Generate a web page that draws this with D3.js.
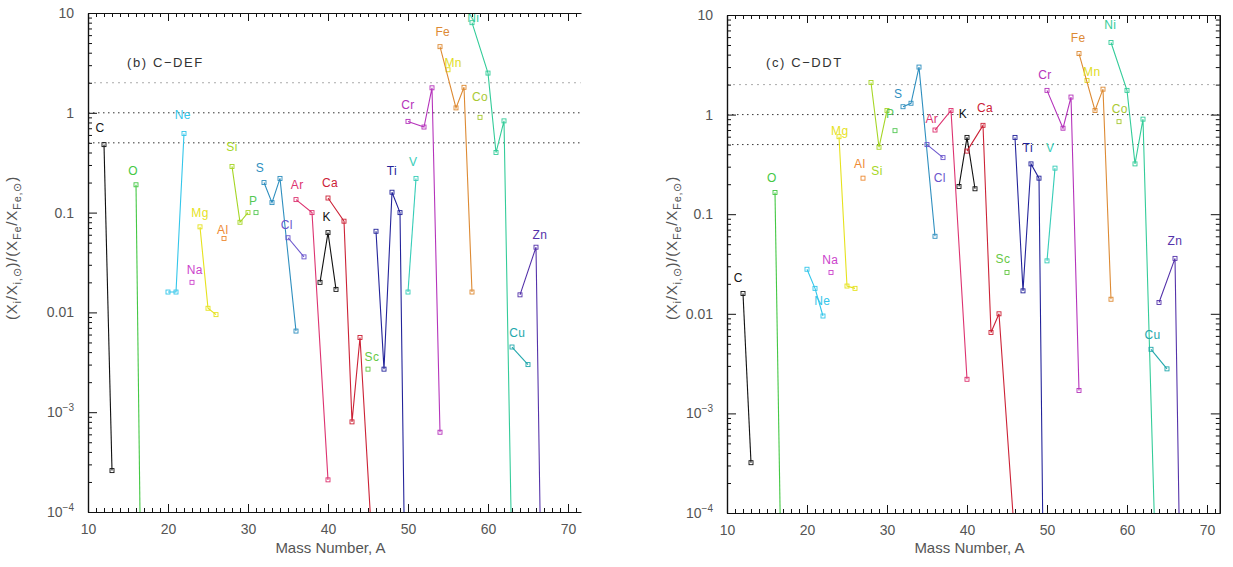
<!DOCTYPE html>
<html><head><meta charset="utf-8">
<script src="https://cdn.jsdelivr.net/npm/d3@7"></script>
<style>
body{margin:0;background:#fff;}
svg text{font-family:"Liberation Sans",Arial,Helvetica,sans-serif;}
</style></head><body>
<svg id="chart" width="1233" height="567"></svg>
<script>
// ---------- data ----------
const elements = ["C","O","Ne","Na","Mg","Al","Si","P","S","Cl","Ar","K","Ca","Sc","Ti","V","Cr","Mn","Fe","Co","Ni","Cu","Zn"];

const isotopeA = {
  C:[12,13], O:[16,17], Ne:[20,21,22], Na:[23], Mg:[24,25,26], Al:[27], Si:[28,29,30], P:[31],
  S:[32,33,34,36], Cl:[35,37], Ar:[36,38,40], K:[39,40,41], Ca:[40,42,43,44,46], Sc:[45],
  Ti:[46,47,48,49,50], V:[50,51], Cr:[50,52,53,54], Mn:[55], Fe:[54,56,57,58], Co:[59],
  Ni:[58,60,61,62,64], Cu:[63,65], Zn:[64,66,67]
};

// (b) C-DEF : (X_i/X_i,sun)/(X_Fe/X_Fe,sun)
const valuesDEF = {
  C:[0.48,2.6e-4], O:[0.19,5e-8], Ne:[0.016,0.016,0.62], Na:[0.02], Mg:[0.072,0.011,0.0095],
  Al:[0.055], Si:[0.29,0.08,0.1], P:[0.1], S:[0.2,0.126,0.22,0.0065], Cl:[0.056,0.036],
  Ar:[0.135,0.1,2.1e-4], K:[0.02,0.063,0.017], Ca:[0.14,0.082,8e-4,0.0056,1e-5], Sc:[2.7e-3],
  Ti:[0.065,2.7e-3,0.16,0.1,1e-7], V:[0.016,0.22], Cr:[0.82,0.72,1.78,6.3e-4], Mn:[2.7],
  Fe:[4.6,1.12,1.8,0.016], Co:[0.9], Ni:[8,2.5,0.4,0.83,1e-9], Cu:[4.5e-3,3e-3], Zn:[0.015,0.045,2.5e-7]
};

// (c) C-DDT
const valuesDDT = {
  C:[0.016,3.2e-4], O:[0.165,1.6e-6], Ne:[0.028,0.018,0.0095], Na:[0.026], Mg:[0.6,0.019,0.018],
  Al:[0.23], Si:[2.1,0.47,1.1], P:[0.69], S:[1.2,1.3,3.0,0.06], Cl:[0.5,0.37],
  Ar:[0.7,1.1,2.2e-3], K:[0.19,0.59,0.18], Ca:[0.43,0.78,6.5e-3,0.01,5e-5], Sc:[0.026],
  Ti:[0.59,0.017,0.32,0.23,1e-8], V:[0.034,0.29], Cr:[1.75,0.73,1.5,1.7e-3], Mn:[2.2],
  Fe:[4.1,1.1,1.8,0.014], Co:[0.85], Ni:[5.3,1.75,0.32,0.9,2e-6], Cu:[4.4e-3,2.8e-3], Zn:[0.013,0.036,3e-7]
};

// element-name annotation anchors, in data units [mass number, ratio]
const labelAtDEF = {
  C:[11.5,0.71], O:[15.65,0.26], Ne:[21.85,0.95], Na:[23.35,0.027], Mg:[24,0.10], Al:[26.85,0.068],
  Si:[28,0.46], P:[30.65,0.13], S:[31.5,0.28], Cl:[34.85,0.076], Ar:[36.15,0.19], K:[39.85,0.091],
  Ca:[40.25,0.2], Sc:[45.5,3.6e-3], Ti:[48,0.26], V:[50.65,0.32], Cr:[50,1.2], Mn:[55.65,3.2],
  Fe:[54.35,6.5], Co:[59,1.45], Ni:[58.15,8.9], Cu:[63.65,6.3e-3], Zn:[66.5,0.06]
};
const labelAtDDT = {
  C:[11.4,0.023], O:[15.6,0.23], Ne:[21.9,0.0134], Na:[22.9,0.035], Mg:[24.1,0.69], Al:[26.6,0.32],
  Si:[28.75,0.27], P:[30.4,1.03], S:[31.4,1.63], Cl:[36.6,0.23], Ar:[35.6,0.91], K:[39.5,1.03],
  Ca:[42.25,1.18], Sc:[44.5,0.036], Ti:[47.6,0.46], V:[50.4,0.46], Cr:[49.75,2.5], Mn:[55.6,2.66],
  Fe:[53.9,5.9], Co:[59.1,1.15], Ni:[57.9,7.9], Cu:[63.2,6.1e-3], Zn:[66,0.054]
};

const refLevels = [2, 1, 0.5];
const xDomain = [10, 71.6];
const yDomain = [1e-4, 10];
const xMajorTicks = [10,20,30,40,50,60,70];
const yMajorTicks = [10,1,0.1,0.01,1e-3,1e-4];
const yTickText = [["10",""],["1",""],["0.1",""],["0.01",""],["10","\u22123"],["10","\u22124"]];
const panelTitles = ["(b) C\u2212DEF","(c) C\u2212DDT"];
const xTitle = "Mass Number, A";

// ---------- styles ----------
const colors = {
  C:"#111111", O:"#44c844", Ne:"#33c6ea", Na:"#cc44cc", Mg:"#e6e21e", Al:"#ee8a33", Si:"#a6d626",
  P:"#55c855", S:"#2f8fbf", Cl:"#6a55cc", Ar:"#dd3370", K:"#111111", Ca:"#cc2236", Sc:"#66c844",
  Ti:"#23239a", V:"#36cdb8", Cr:"#b533bb", Mn:"#e0dc1e", Fe:"#dd8a33", Co:"#a9c933", Ni:"#33cc99",
  Cu:"#22a8ac", Zn:"#5533aa"
};

const panels = [
  {title:panelTitles[0], values:valuesDEF, labels:labelAtDEF, left:88, top:13, bottom:512, rightAxis:false, yTitleX:17},
  {title:panelTitles[1], values:valuesDDT, labels:labelAtDDT, left:727, top:15, bottom:513, rightAxis:true, yTitleX:677}
];

const svg = d3.select("#chart");
const PX_PER_A = 8;

panels.forEach((p, pi) => {
  const right = p.left + (xDomain[1]-xDomain[0]) * PX_PER_A;
  const x = d3.scaleLinear().domain(xDomain).range([p.left, right]);
  const y = d3.scaleLog().domain(yDomain).range([p.bottom, p.top]);
  const g = svg.append("g");

  const clipId = "clip" + pi;
  svg.append("clipPath").attr("id", clipId).append("rect")
    .attr("x", p.left).attr("y", p.top).attr("width", right - p.left).attr("height", p.bottom - p.top);

  // reference levels
  g.append("g").attr("clip-path", `url(#${clipId})`).selectAll("line").data(refLevels).join("line")
    .attr("x1", p.left).attr("x2", right)
    .attr("y1", d => y(d)).attr("y2", d => y(d))
    .attr("stroke", d => d === 2 ? "#aaaaaa" : "#333333")
    .attr("stroke-width", 1)
    .attr("stroke-dasharray", d => d === 2 ? "2,4" : "1.5,3.5");

  // element series
  const line = d3.line().x(d => x(d[0])).y(d => y(d[1]));
  const series = g.append("g").attr("clip-path", `url(#${clipId})`);
  elements.forEach(el => {
    const pts = isotopeA[el].map((a, i) => [a, p.values[el][i]]);
    if (pts.length > 1) {
      series.append("path").datum(pts).attr("d", line)
        .attr("fill", "none").attr("stroke", colors[el]).attr("stroke-width", 1.1);
    }
    series.selectAll(null).data(pts.filter(d => d[1] >= yDomain[0] && d[1] <= yDomain[1])).join("rect")
      .attr("x", d => x(d[0]) - 2).attr("y", d => y(d[1]) - 2)
      .attr("width", 4).attr("height", 4)
      .attr("fill", "none").attr("stroke", colors[el]).attr("stroke-width", 0.9);
    const la = p.labels[el];
    g.append("text").attr("x", x(la[0])).attr("y", y(la[1]))
      .attr("text-anchor", "middle").attr("dy", "0.35em")
      .attr("font-size", 12).attr("letter-spacing", 0.4)
      .attr("fill", colors[el]).text(el);
  });

  // axes
  const minorX = d3.range(10, 72, 1);
  const minorY = [];
  for (let e = -4; e < 1; e++) for (let m = 2; m <= 9; m++) minorY.push(m * Math.pow(10, e));

  const axStyle = sel => {
    sel.select(".domain").attr("stroke", "#111").attr("stroke-width", 1.2);
    sel.selectAll(".tick line").attr("stroke", "#111").attr("stroke-width", 1);
  };

  // bottom
  g.append("g").attr("transform", `translate(0,${p.bottom})`)
    .call(d3.axisBottom(x).tickValues(minorX).tickSize(-4).tickFormat("").tickSizeOuter(0)).call(axStyle);
  const bx = g.append("g").attr("transform", `translate(0,${p.bottom})`)
    .call(d3.axisBottom(x).tickValues(xMajorTicks).tickSize(-8).tickPadding(12).tickFormat(d3.format("d")).tickSizeOuter(0))
    .call(axStyle);
  bx.selectAll("text").attr("font-size", 14).attr("fill", "#555")
    .attr("font-family", "\"Liberation Sans\",Arial,sans-serif");

  // top
  g.append("g").attr("transform", `translate(0,${p.top})`)
    .call(d3.axisTop(x).tickValues(minorX).tickSize(-4).tickFormat("").tickSizeOuter(0)).call(axStyle);
  g.append("g").attr("transform", `translate(0,${p.top})`)
    .call(d3.axisTop(x).tickValues(xMajorTicks).tickSize(-8).tickFormat("").tickSizeOuter(0)).call(axStyle);

  // left
  g.append("g").attr("transform", `translate(${p.left},0)`)
    .call(d3.axisLeft(y).tickValues(minorY).tickSize(-4).tickFormat("").tickSizeOuter(0)).call(axStyle);
  g.append("g").attr("transform", `translate(${p.left},0)`)
    .call(d3.axisLeft(y).tickValues(yMajorTicks).tickSize(-9).tickFormat("").tickSizeOuter(0)).call(axStyle);

  if (p.rightAxis) {
    g.append("g").attr("transform", `translate(${right},0)`)
      .call(d3.axisRight(y).tickValues(minorY).tickSize(-4).tickFormat("").tickSizeOuter(0)).call(axStyle);
    g.append("g").attr("transform", `translate(${right},0)`)
      .call(d3.axisRight(y).tickValues(yMajorTicks).tickSize(-9).tickFormat("").tickSizeOuter(0)).call(axStyle);
  }

  // y tick labels
  yMajorTicks.forEach((v, i) => {
    const t = g.append("text").attr("x", p.left - 14).attr("y", y(v)).attr("dy", "0.35em")
      .attr("text-anchor", "end").attr("font-size", 14).attr("fill", "#555");
    t.append("tspan").text(yTickText[i][0]);
    if (yTickText[i][1]) {
      t.append("tspan").attr("dy", -6).attr("font-size", 10).text(yTickText[i][1]);
    }
  });

  // panel title
  g.append("text").attr("x", p.left + 39).attr("y", 62).attr("dy", "0.35em")
    .attr("font-size", 13).attr("letter-spacing", 1.6).attr("fill", "#333").text(p.title);

  // x title
  g.append("text").attr("x", (p.left + right) / 2 - 4).attr("y", 548).attr("dy", "0.35em")
    .attr("text-anchor", "middle").attr("font-size", 15).attr("fill", "#555").text(xTitle);

  // y title
  const yt = g.append("text").attr("transform", `translate(${p.yTitleX},248) rotate(-90)`)
    .attr("text-anchor", "middle").attr("font-size", 15).attr("letter-spacing", 0.8).attr("fill", "#555");
  const parts = [["(X",0],["i",1],["/X",0],["i,\u2299",1],[")/(X",0],["Fe",1],["/X",0],["Fe,\u2299",1],[")",0]];
  let lastSub = 0;
  parts.forEach(([txt, sub]) => {
    const ts = yt.append("tspan").text(txt);
    if (sub && !lastSub) ts.attr("dy", 4).attr("font-size", 11);
    else if (!sub && lastSub) ts.attr("dy", -4);
    lastSub = sub;
  });
});
</script>
</body></html>
